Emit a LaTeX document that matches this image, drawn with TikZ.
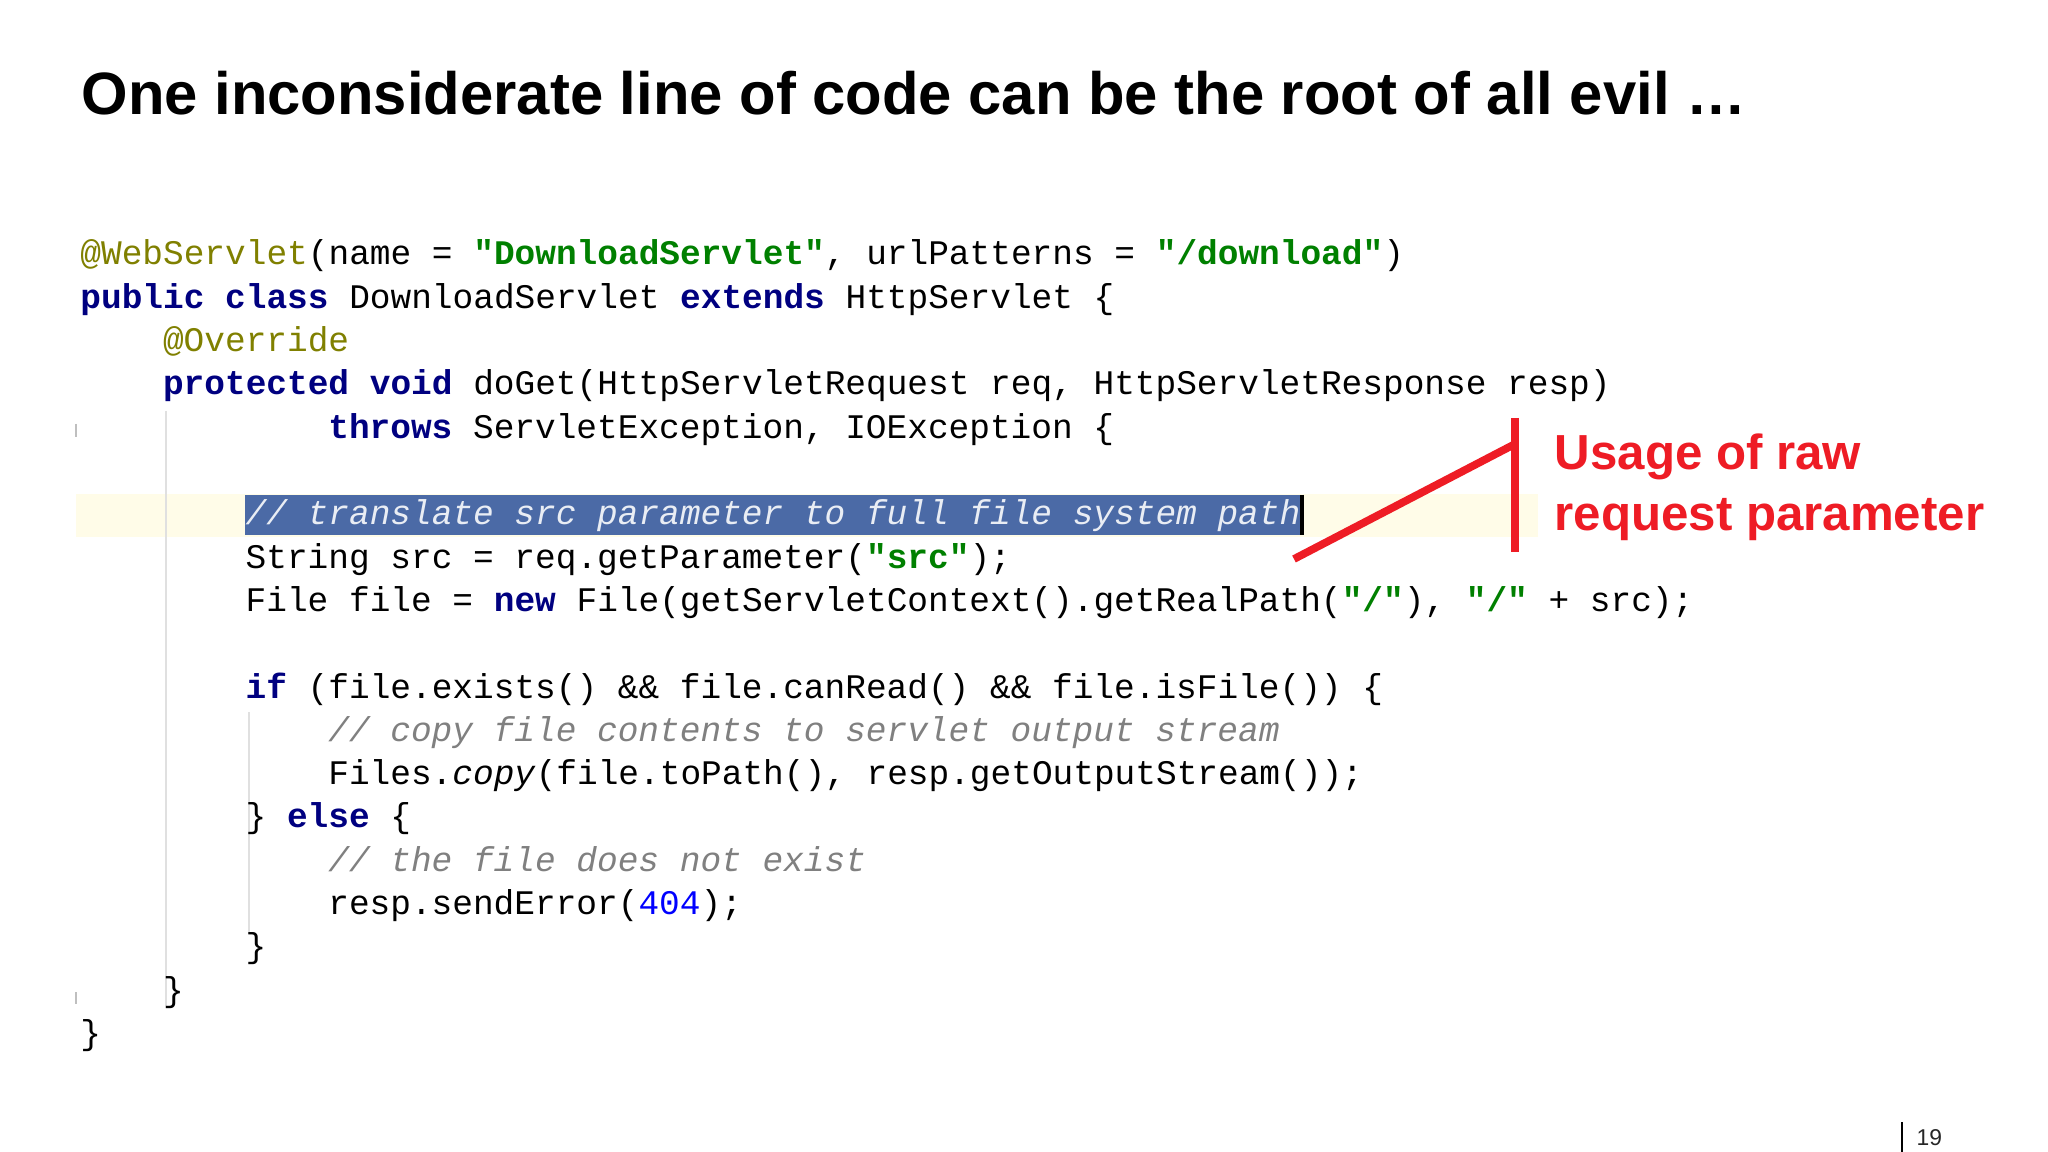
\documentclass[tikz,border=0pt]{standalone}
\usepackage{fontspec}
\setmainfont{Liberation Sans}
\setmonofont{Liberation Mono}
\definecolor{kwc}{HTML}{000080}
\definecolor{stc}{HTML}{008000}
\definecolor{anc}{HTML}{808000}
\definecolor{cmc}{HTML}{808080}
\definecolor{nmc}{HTML}{0000FF}
\definecolor{selc}{HTML}{4B6AA6}
\definecolor{linec}{HTML}{FFFCE8}
\definecolor{redc}{HTML}{EE1C25}
\newcommand{\kw}[1]{\textcolor{kwc}{\bfseries #1}}
\newcommand{\stg}[1]{\textcolor{stc}{\bfseries #1}}
\newcommand{\an}[1]{\textcolor{anc}{#1}}
\newcommand{\cmt}[1]{\textcolor{cmc}{\itshape #1}}
\newcommand{\nm}[1]{\textcolor{nmc}{#1}}
\tikzset{codeline/.style={anchor=base west,inner sep=0pt,font=\ttfamily\fontsize{9.8}{10}\selectfont,text=black}}
\begin{document}
\begin{tikzpicture}[x=0.01cm,y=-0.01cm]
\useasboundingbox[fill=white] (0,0) rectangle (2048,1152);
\node[anchor=base west,inner sep=0pt,font=\bfseries\fontsize{17}{20}\selectfont] (title) at (81,115) {One inconsiderate line of code can be the root of all evil …};
% current line band and selection
\fill[linec] (76,494) rectangle (1538,537);
\fill[selc] (245,495) rectangle (1302,535);
\draw[black,line width=1.2pt] (1302,495) -- (1302,535);
% indent guides
\draw[black!12,line width=0.6pt] (166,411) -- (166,1006);
\draw[black!12,line width=0.6pt] (249,712) -- (249,934);
\draw[black!25,line width=0.6pt] (76,424) -- (76,437);
\draw[black!25,line width=0.6pt] (76,992) -- (76,1004);
% code
\def\cx#1{\fpeval{79.7+20.66*#1}}
\def\ry#1{\fpeval{265+43.3*#1}}
\node[codeline] (l0) at (\cx{0},\ry{0}) {\an{@WebServlet}(name = \stg{"DownloadServlet"}, urlPatterns = \stg{"/download"})};
\node[codeline] (l1) at (\cx{0},\ry{1}) {\kw{public class} DownloadServlet \kw{extends} HttpServlet \{};
\node[codeline] (l2) at (\cx{4},\ry{2}) {\an{@Override}};
\node[codeline] (l3) at (\cx{4},\ry{3}) {\kw{protected void} doGet(HttpServletRequest req, HttpServletResponse resp)};
\node[codeline] (l4) at (\cx{12},\ry{4}) {\kw{throws} ServletException, IOException \{};
\node[codeline] (l6) at (\cx{8},\ry{6}) {\textcolor{white!88!selc}{\itshape // translate src parameter to full file system path}};
\node[codeline] (l7) at (\cx{8},\ry{7}) {String src = req.getParameter(\stg{"src"});};
\node[codeline] (l8) at (\cx{8},\ry{8}) {File file = \kw{new} File(getServletContext().getRealPath(\stg{"/"}), \stg{"/"} + src);};
\node[codeline] (l10) at (\cx{8},\ry{10}) {\kw{if} (file.exists() \&\& file.canRead() \&\& file.isFile()) \{};
\node[codeline] (l11) at (\cx{12},\ry{11}) {\cmt{// copy file contents to servlet output stream}};
\node[codeline] (l12) at (\cx{12},\ry{12}) {Files.\textit{copy}(file.toPath(), resp.getOutputStream());};
\node[codeline] (l13) at (\cx{8},\ry{13}) {\} \kw{else} \{};
\node[codeline] (l14) at (\cx{12},\ry{14}) {\cmt{// the file does not exist}};
\node[codeline] (l15) at (\cx{12},\ry{15}) {resp.sendError(\nm{404});};
\node[codeline] (l16) at (\cx{8},\ry{16}) {\}};
\node[codeline] (l17) at (\cx{4},\ry{17}) {\}};
\node[codeline] (l18) at (\cx{0},\ry{18}) {\}};
% annotation
\coordinate (pa) at (1294,559);
\coordinate (pb) at (1515,444);
\coordinate (vt) at (1515,418);
\coordinate (vb) at (1515,552);
\draw[redc,line width=2.2pt] (pa) -- (pb);
\draw[redc,line width=2.2pt] (vt) -- (vb);
\node[anchor=base west,inner sep=0pt,text=redc,font=\bfseries\fontsize{14}{16}\selectfont,align=left] (u1) at (1554,470) {Usage of raw};
\node[anchor=base west,inner sep=0pt,text=redc,font=\bfseries\fontsize{14}{16}\selectfont,align=left] (u2) at (1554,531) {request parameter};
% page number
\draw[black,line width=0.7pt] (1902,1122) -- (1902,1152);
\node[anchor=base west,inner sep=0pt,font=\fontsize{6.5}{8}\selectfont,text=black!85] (pg) at (1916,1145) {19};
\end{tikzpicture}
\end{document}
